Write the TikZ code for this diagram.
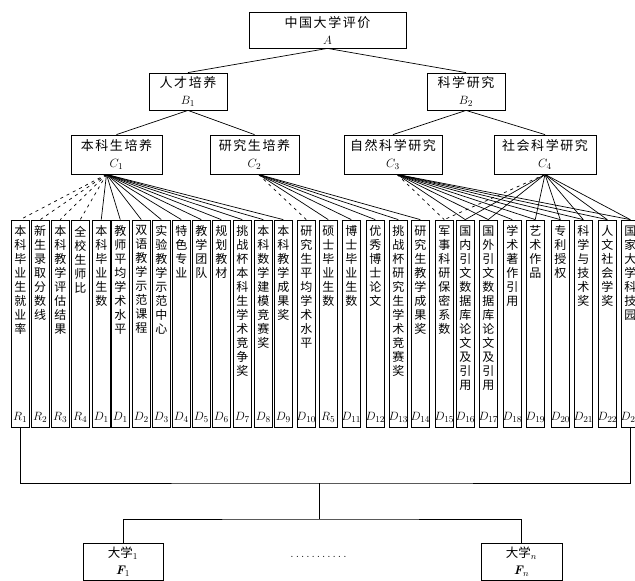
\documentclass[tikz,border=0pt]{standalone}
\usepackage{fontspec}
\newfontfamily\cjk{Noto Sans CJK SC}
\newfontfamily\cjksp[LetterSpace=12]{Noto Sans CJK SC}
\makeatletter
\def\vt#1{\vt@a#1\@nil}
\def\vt@a#1#2\@nil{#1\ifx\relax#2\relax\else\\\vt@a#2\@nil\fi}
\makeatother
\tikzset{
  tbox/.style={draw, line width=0.8pt, inner sep=0pt, align=center,
    font=\cjksp\fontsize{13}{17}\selectfont},
  vbox/.style={draw, line width=0.8pt, minimum width=18.5pt, minimum height=207pt, inner sep=0pt},
  vtext/.style={inner sep=0pt, anchor=north, align=center, font=\cjk\fontsize{12}{14}\selectfont},
  lab/.style={inner sep=0pt, anchor=base, font=\fontsize{12.5}{13}\selectfont},
  conn/.style={line width=0.7pt},
  dconn/.style={line width=0.7pt, dash pattern=on 3pt off 4pt},
}
\begin{document}
\begin{tikzpicture}[x=1pt,y=-1pt]
\useasboundingbox (0,0) rectangle (635,581);
\clip (0,0) rectangle (635,581);
% top levels
\node[tbox, minimum width=157pt, minimum height=36pt] (A) at (327.5,30) {中国大学评价\\$A$};
\node[tbox, minimum width=78pt, minimum height=37pt] (B1) at (188,91.5) {人才培养\\$B_1$};
\node[tbox, minimum width=78pt, minimum height=37pt] (B2) at (466,91.5) {科学研究\\$B_2$};
\node[tbox, minimum width=91pt, minimum height=39pt] (C1) at (116.5,154.5) {本科生培养\\$C_1$};
\node[tbox, minimum width=89pt, minimum height=39pt] (C2) at (254.5,154.5) {研究生培养\\$C_2$};
\node[tbox, minimum width=98pt, minimum height=39pt] (C3) at (393,154.5) {自然科学研究\\$C_3$};
\node[tbox, minimum width=102pt, minimum height=39pt] (C4) at (545,154.5) {社会科学研究\\$C_4$};
\draw[conn] (A.south) -- (B1.north);
\draw[conn] (A.south) -- (B2.north);
\draw[conn] (B1.south) -- (C1.north);
\draw[conn] (B1.south) -- (C2.north);
\draw[conn] (B2.south) -- (C3.north);
\draw[conn] (B2.south) -- (C4.north);
% indicator boxes
\foreach \i/\x/\t/\l in {
 1/11/本科毕业生就业率/R_1,
 2/31/新生录取分数线/R_2,
 3/51/本科教学评估结果/R_3,
 4/71/全校生师比/R_4,
 5/92/本科毕业生数/D_1,
 6/111/教师平均学术水平/D_1,
 7/132/双语教学示范课程/D_2,
 8/152/实验教学示范中心/D_3,
 9/172/特色专业/D_4,
 10/192/教学团队/D_5,
 11/212/规划教材/D_6,
 12/233/挑战杯本科生学术竞争奖/D_7,
 13/254/本科数学建模竞赛奖/D_8,
 14/274/本科教学成果奖/D_9,
 15/297/研究生平均学术水平/D_{10},
 16/319/硕士毕业生数/R_5,
 17/342/博士毕业生数/D_{11},
 18/366/优秀博士论文/D_{12},
 19/389/挑战杯研究生学术竞赛奖/D_{13},
 20/411/研究生教学成果奖/D_{14},
 21/435/军事科研保密系数/D_{15},
 22/456/国内引文数据库论文及引用/D_{16},
 23/479/国外引文数据库论文及引用/D_{17},
 24/503/学术著作引用/D_{18},
 25/526/艺术作品/D_{19},
 26/551/专利授权/D_{20},
 27/574/科学与技术奖/D_{21},
 28/598/人文社会学奖/D_{22},
 29/621/国家大学科技园/D_{23}}{
  \node[vbox] (b\i) at (\x+9.25,323.5) {};
  \node[vtext] (t\i) at ([yshift=-6pt]b\i.north) {\expandafter\vt\expandafter{\t}};
  \node[lab] (l\i) at ([yshift=7pt]b\i.south) {$\l$};
}
% C1 connectors
\foreach \j in {1,...,4} \draw[dconn] ([xshift=-10pt]C1.south) -- (b\j.north);
\foreach \j in {5,...,14} \draw[conn] ([xshift=-10pt]C1.south) -- (b\j.north);
% C2 connectors
\draw[dconn] ([xshift=4pt]C2.south) -- (b15.north);
\foreach \j in {16,...,20} \draw[conn] ([xshift=4pt]C2.south) -- (b\j.north);
% C3 connectors
\draw[dconn] ([xshift=4pt]C3.south) -- (b21.north);
\foreach \j in {22,...,29} \draw[conn] ([xshift=4pt]C3.south) -- (b\j.north);
% C4 connectors
\draw[dconn] (C4.south) -- (b21.north);
\foreach \j in {22,23,25,26,27,28,29} \draw[conn] (C4.south) -- (b\j.north);
% bottom bracket
\coordinate (m) at (319,483);
\draw[conn] (b1.south) |- (m) -| (b29.south);
\node[tbox, minimum width=80pt, minimum height=37pt, font=\cjk\fontsize{12.5}{17}\selectfont] (F1) at (123,561.5) {大学$_{1}$\\{\normalfont\bfseries\itshape F}$_{1}$};
\node[tbox, minimum width=81pt, minimum height=37pt, font=\cjk\fontsize{12.5}{17}\selectfont] (Fn) at (521.5,561.5) {大学$_{n}$\\{\normalfont\bfseries\itshape F}$_{n}$};
\coordinate (s) at (319,519);
\draw[conn] (m) -- (s);
\draw[conn] (F1.north) |- (s) -| (Fn.north);
\node[inner sep=0pt, font=\fontsize{12}{12}\selectfont] (dots) at (318.5,557) {\makebox[59pt]{\dotfill}};
\end{tikzpicture}
\end{document}
